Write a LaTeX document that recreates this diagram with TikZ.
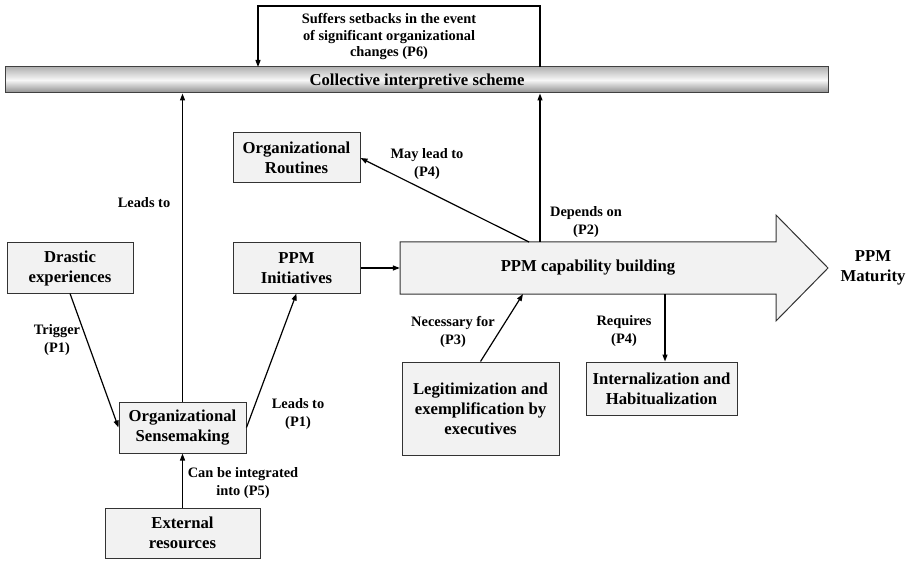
\documentclass[tikz,border=0pt]{standalone}
\usepackage{fontspec}
\setmainfont{Liberation Serif}
\usetikzlibrary{arrows.meta}
\newcommand{\boxfont}{\fontsize{16.7pt}{20pt}\selectfont\bfseries}
\newcommand{\lblfont}{\fontsize{14.4pt}{18pt}\selectfont\bfseries}
\begin{document}
\begin{tikzpicture}[x=1pt,y=-1pt,
  box/.style={draw=black!80, fill=black!5, line width=1pt, align=center, font=\boxfont, inner sep=0pt},
  lbl/.style={align=center, font=\lblfont, inner sep=0pt},
  arr/.style={line width=1.2pt, -{Triangle[length=7pt,width=5pt]}},
]
\useasboundingbox (0,0) rectangle (912,561);
% collective bar
\node[draw=black!75, line width=1pt, top color=black!30, bottom color=black!45, middle color=black!3,
      minimum width=823pt, minimum height=26pt, inner sep=0pt, font=\boxfont] (bar) at (416.5,80) {};
\node[font=\boxfont, inner sep=0pt] (bartext) at (417,81) {Collective interpretive scheme};
% boxes
\node[box, minimum width=126pt, minimum height=50pt] (drastic) at (70,268) {Drastic\\experiences};
\node[box, minimum width=127pt, minimum height=50pt] (routines) at (296.5,158) {Organizational\\Routines};
\node[box, minimum width=127pt, minimum height=50pt] (init) at (296.5,268) {PPM\\Initiatives};
\node[box, minimum width=127pt, minimum height=51pt] (sense) at (182.5,427.5) {Organizational\\Sensemaking};
\node[box, minimum width=155pt, minimum height=50pt] (ext) at (182.5,533) {External\\resources};
\node[box, minimum width=157pt, minimum height=93pt] (legit) at (480.5,408.5) {Legitimization and\\exemplification by\\executives};
\node[box, minimum width=151pt, minimum height=53pt] (intern) at (661.5,388.5) {Internalization and\\Habitualization};
% big arrow
\draw[draw=black!80, fill=black!5, line width=1pt]
  (400,242) -- (776,242) -- (776,215) -- (828,268) -- (776,321) -- (776,294) -- (400,294) -- cycle;
\node[inner sep=0pt, minimum width=376pt, minimum height=52pt, font=\boxfont] (cap) at (588,268) {PPM capability building};
\node[lbl, font=\boxfont] (mat) at (873,268) {PPM\\Maturity};
\coordinate (capUp) at (540,242);
\coordinate (capR) at (529,242);
\coordinate (capN) at (523,294);
\coordinate (capS) at (665,294);
\coordinate (loopR) at (540,67);
\coordinate (loopL) at (258,67);
\coordinate (loopTop) at (540,6);
% connectors
\draw[arr] (loopR) -- (loopTop) -| (loopL);
\draw[arr] (sense.north) -- (sense.north |- bar.south);
\draw[arr] (capUp) -- (capUp |- bar.south);
\draw[arr] (capR) -- (routines.east);
\draw[arr] (init.east) -- (cap.west);
\draw[arr] (drastic.south) -- (sense.west);
\draw[arr] (sense.east) -- (init.south);
\draw[arr] (ext.north) -- (sense.south);
\draw[arr] (legit.north) -- (capN);
\draw[arr] (capS) -- (capS |- intern.north);
% labels
\node[lbl, font=\fontsize{14.4pt}{16.5pt}\selectfont\bfseries] (l6) at (389,37) {Suffers setbacks in the event\\of significant organizational\\changes (P6)};
\node[lbl] (lleads) at (144,203) {Leads to};
\node[lbl] (l4a) at (427,164) {May lead to\\(P4)};
\node[lbl] (l2) at (586,222) {Depends on\\(P2)};
\node[lbl] (l1a) at (57,340) {Trigger\\(P1)};
\node[lbl] (l1b) at (298,414) {Leads to\\(P1)};
\node[lbl] (l5) at (243,483) {Can be integrated\\into (P5)};
\node[lbl] (l3) at (453,332) {Necessary for\\(P3)};
\node[lbl] (l4b) at (624,331) {Requires\\(P4)};
\end{tikzpicture}
\end{document}
